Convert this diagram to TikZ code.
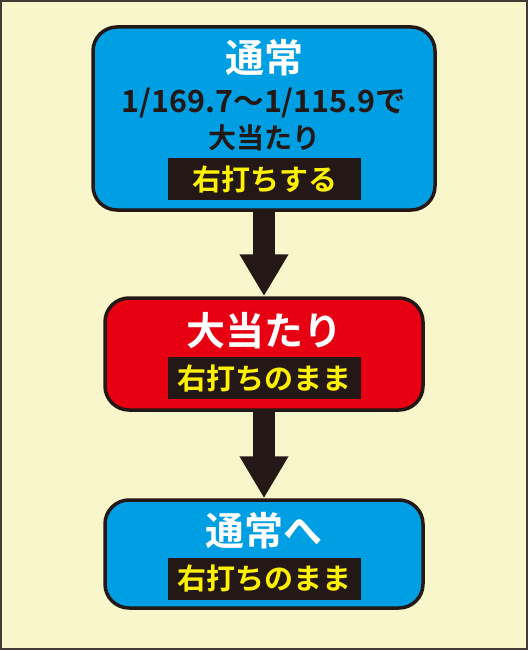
\documentclass[tikz,border=0pt]{standalone}
\usepackage{fontspec}
\usetikzlibrary{arrows.meta}
\newfontfamily\jpfont{Noto Sans CJK JP}[BoldFont={* Bold}]
\definecolor{haikei}{HTML}{FAF6CC}
\definecolor{ao}{HTML}{009FE3}
\definecolor{aka}{HTML}{E60012}
\definecolor{kuro}{HTML}{231815}
\definecolor{kiiro}{HTML}{FFF100}

\begin{document}
\begin{tikzpicture}[x=1pt,y=-1pt,
  waku/.style={draw=kuro, line width=3.5pt, rounded corners=24pt, inner sep=0pt},
  midashi/.style={text=white, font=\jpfont\bfseries\fontsize{39}{41}\selectfont},
  honbun/.style={text=kuro, font=\jpfont\bfseries\fontsize{28}{30}\selectfont},
  fuda/.style={fill=kuro, text=kiiro, minimum width=193pt, minimum height=42pt, inner sep=0pt,
    font=\jpfont\bfseries\fontsize{29}{31}\selectfont},
  yaji/.style={draw=kuro, line width=22pt, -{Triangle[width=46pt,length=42pt]}}]
\useasboundingbox (0,0) rectangle (528,650);
\fill[haikei, draw=kuro!85!white, line width=2pt] (1,1) rectangle (527,649);
% tsujo
\node[waku, fill=ao, minimum width=342pt, minimum height=183pt] (tsujo) at (264,118.5) {};
\node[midashi] (tsujoT) at (264,58) {通常};
\node[honbun, font=\jpfont\bfseries\fontsize{30.5}{32}\selectfont] (kakuritsu) at (264,103) {1/169.7〜1/115.9で};
\node[honbun] (atari1) at (264,138) {大当たり};
\node[fuda] (migi1) at (264.5,179) {右打ちする};
% oatari
\node[waku, fill=aka, minimum width=318pt, minimum height=112pt] (oatari) at (264,354) {};
\node[midashi] (oatariT) at (264,331) {大当たり};
\node[fuda] (migi2) at (264.5,378) {右打ちのまま};
% tsujo he
\node[waku, fill=ao, minimum width=318pt, minimum height=108pt] (modori) at (264,554) {};
\node[midashi] (modoriT) at (264,531) {通常へ};
\node[fuda] (migi3) at (264.5,578.5) {右打ちのまま};
% yajirushi
\draw[yaji] (tsujo.south) -- (oatari.north);
\draw[yaji] (oatari.south) -- (modori.north);
\end{tikzpicture}
\end{document}
